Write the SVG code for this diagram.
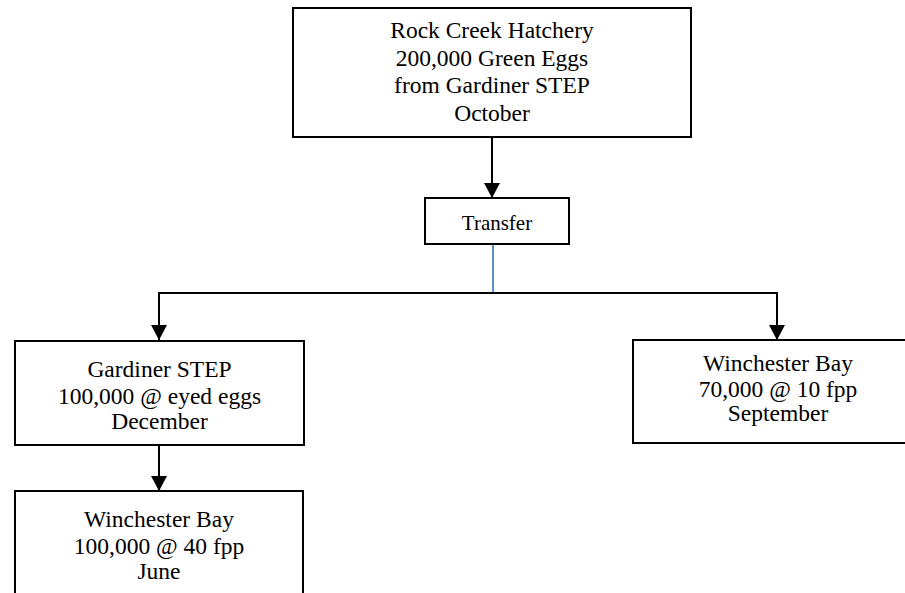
<svg xmlns="http://www.w3.org/2000/svg" width="905" height="593" viewBox="0 0 905 593">
<style>
.box{fill:#fff;stroke:#000;stroke-width:2}
.t{font-family:"Liberation Serif","Times New Roman",serif;font-size:23.5px;fill:#000;text-anchor:middle}
.ts{font-size:21px}
.c{fill:none;stroke:#000;stroke-width:2}
.blue{fill:none;stroke:#5b8fd0;stroke-width:2}
</style>
<defs>
<marker id="ah" markerUnits="userSpaceOnUse" markerWidth="16" markerHeight="16" viewBox="0 0 16 16" refX="8" refY="16" orient="auto-start-reverse">
<path d="M0,0 L16,0 L8,16 Z" fill="#000" transform="rotate(0)"/>
</marker>
</defs>
<rect width="905" height="593" fill="#fff"/>
<g id="connectors">
<line class="c" x1="492" y1="137" x2="492" y2="198"/>
<path d="M492,183 l-8,0 l8,15 l8,-15 z" fill="#000"/>
<line class="blue" x1="493" y1="244" x2="493" y2="292"/>
<polyline class="c" points="159,340 159,293 777,293 777,340"/>
<path d="M159,340 l-8,-15 l16,0 z" fill="#000"/>
<path d="M777,340 l-8,-15 l16,0 z" fill="#000"/>
<line class="c" x1="159" y1="445" x2="159" y2="491"/>
<path d="M159,491 l-8,-15 l16,0 z" fill="#000"/>
</g>
<g id="rock-creek">
<rect class="box" x="293" y="8" width="398" height="129"/>
<text class="t" x="492" y="38">Rock Creek Hatchery</text>
<text class="t" x="492" y="65.5">200,000 Green Eggs</text>
<text class="t" x="492" y="93">from Gardiner STEP</text>
<text class="t" x="492" y="120.5">October</text>
</g>
<g id="transfer">
<rect class="box" x="425" y="198" width="144" height="46"/>
<text class="t ts" x="497" y="230">Transfer</text>
</g>
<g id="gardiner">
<rect class="box" x="15" y="341" width="289" height="104"/>
<text class="t" x="159.5" y="377">Gardiner STEP</text>
<text class="t" x="159.5" y="404">100,000 @ eyed eggs</text>
<text class="t" x="159.5" y="429">December</text>
</g>
<g id="winchester-june">
<rect class="box" x="15" y="491" width="288" height="120"/>
<text class="t" x="159" y="527">Winchester Bay</text>
<text class="t" x="159" y="554">100,000 @ 40 fpp</text>
<text class="t" x="159" y="579">June</text>
</g>
<g id="winchester-sept">
<rect class="box" x="633" y="340" width="290" height="103"/>
<text class="t" x="778" y="371">Winchester Bay</text>
<text class="t" x="778" y="397">70,000 @ 10 fpp</text>
<text class="t" x="778" y="421">September</text>
</g>
</svg>
